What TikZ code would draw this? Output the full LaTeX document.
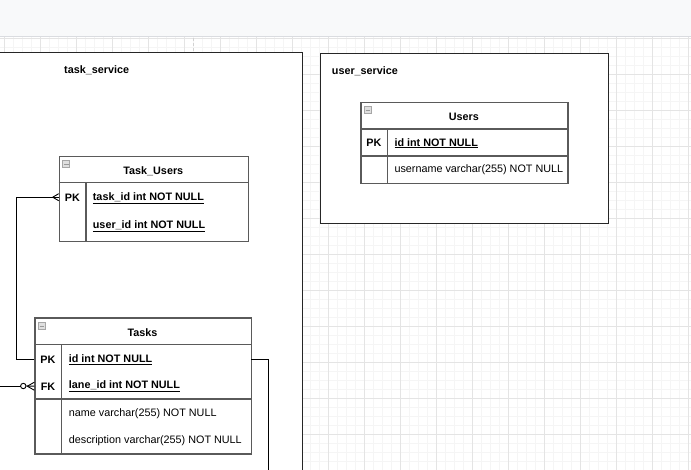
\documentclass[tikz,border=0pt]{standalone}
\usepackage{fontspec}
\setmainfont{Liberation Sans}
\definecolor{topbar}{HTML}{F8F9FA}
\definecolor{topline}{HTML}{DADCE0}
\definecolor{gridminor}{HTML}{F5F5F5}
\definecolor{gridmajor}{HTML}{E4E4E4}
\definecolor{tblline}{HTML}{5A5A5A}
\begin{document}
\begin{tikzpicture}[x=1pt,y=-1pt,
  every node/.style={font=\fontsize{10.8}{13}\selectfont, inner sep=0pt},
  container/.style={draw=black!85, line width=1.1pt, fill=white, anchor=north west},
  tbl/.style={draw=tblline, line width=1.3pt, fill=white, anchor=north west},
  tblline/.style={draw=tblline, line width=1.3pt},
  rowbox/.style={anchor=north west, minimum height=27pt},
  title/.style={font=\fontsize{10.8}{13}\selectfont\bfseries},
  keylbl/.style={font=\fontsize{10.8}{13}\selectfont\bfseries},
  fld/.style={anchor=west},
  keyfld/.style={anchor=west, font=\fontsize{10.8}{13}\selectfont\bfseries},
  conn/.style={draw=black, line width=0.9pt},
  icon/.style={draw=gray!70, fill=gray!25, line width=0.5pt}
]
\useasboundingbox (0,0) rectangle (691,469);
\clip (0,0) rectangle (691,469);
\fill[white] (0,0) rectangle (691,469);
% grid
\foreach \i in {0,...,76} { \draw[gridminor, line width=0.8pt] ({4.3+9*\i},37) -- ({4.3+9*\i},470); }
\foreach \i in {0,...,48} { \draw[gridminor, line width=0.8pt] (0,{38.3+9*\i}) -- (691,{38.3+9*\i}); }
\foreach \i in {0,...,19} { \draw[gridmajor, line width=0.9pt] ({4.3+36*\i},37) -- ({4.3+36*\i},470); }
\foreach \i in {0,...,12} { \draw[gridmajor, line width=0.9pt] (0,{38.3+36*\i}) -- (691,{38.3+36*\i}); }
% top bar
\fill[topbar] (0,0) rectangle (691,36.5);
\draw[topline, line width=1pt] (0,36.5) -- (691,36.5);
% page break
\draw[gray!35, line width=1.5pt, dash pattern=on 3pt off 2pt] (193.5,38) -- (193.5,52);

% containers
\node[container, minimum width=311pt, minimum height=440pt] (tasksvc) at (-9.5,52) {};
\node[anchor=west, title] (tasksvclbl) at (64,70.7) {task\_service};
\node[container, minimum width=288pt, minimum height=170.3pt] (usersvc) at (319.7,52.7) {};
\node[anchor=west, title] (usersvclbl) at (331.7,71) {user\_service};

% Users table
\node[tbl, minimum width=207pt, minimum height=81.3pt] (users) at (360.3,101.7) {};
\draw[tblline] (360.3,129) -- (567.3,129);
\draw[tblline] (360.3,156) -- (567.3,156);
\draw[tblline] (387.3,129) -- (387.3,183);
\draw[icon] (364.3,106.5) rectangle (371.3,113.5);
\draw[gray!80, line width=0.8pt] (365.5,110) -- (370.1,110);
\node[title] (userstitle) at (463.8,116.7) {Users};
\node[keylbl] (userspk) at (373.8,143.2) {PK};
\node[keyfld] (usersid) at (394.3,143.2) {\underline{id int NOT NULL}};
\node[fld] (usersname) at (394.3,170.2) {username varchar(255) NOT NULL};

% Task_Users table
\node[tbl, minimum width=189.3pt, minimum height=85.3pt] (taskusers) at (58.7,155.7) {};
\draw[tblline] (58.7,182.7) -- (248,182.7);
\draw[tblline] (86,182.7) -- (86,241);
\draw[icon] (62.7,160.5) rectangle (69.7,167.5);
\draw[gray!80, line width=0.8pt] (63.9,164) -- (68.5,164);
\node[title] (tutitle) at (153.3,171) {Task\_Users};
\node[rowbox, minimum width=189.3pt, minimum height=28.6pt] (tu-task) at (58.7,182.7) {};
\node[keylbl] (tupk) at (72.3,198) {PK};
\node[keyfld] (tutask) at (92.7,198) {\underline{task\_id int NOT NULL}};
\node[keyfld] (tuuser) at (92.7,226.4) {\underline{user\_id int NOT NULL}};

% Tasks table
\node[tbl, minimum width=216.4pt, minimum height=136pt] (tasks) at (34.3,317.3) {};
\draw[tblline] (34.3,344.3) -- (250.7,344.3);
\draw[tblline] (34.3,399) -- (250.7,399);
\draw[tblline] (61.7,344.3) -- (61.7,453.3);
\draw[icon] (38.3,322.5) rectangle (45.3,329.5);
\draw[gray!80, line width=0.8pt] (39.5,326) -- (44.1,326);
\node[title] (taskstitle) at (142.5,333) {Tasks};
\node[rowbox, minimum width=216.4pt] (tasks-id) at (34.3,345.3) {};
\node[rowbox, minimum width=216.4pt] (tasks-lane) at (34.3,372.5) {};
\node[keylbl] (taskspk) at (48,359.7) {PK};
\node[keylbl] (tasksfk) at (48,386.7) {FK};
\node[keyfld] (tasksidtxt) at (68.7,359.7) {\underline{id int NOT NULL}};
\node[keyfld] (taskslanetxt) at (68.7,386.7) {\underline{lane\_id int NOT NULL}};
\node[fld] (tasksname) at (68.7,413.4) {name varchar(255) NOT NULL};
\node[fld] (tasksdesc) at (68.7,440.4) {description varchar(255) NOT NULL};

% connectors
\draw[conn] (tasks-id.west) -- ++(-17.6,0) |- (tu-task.west);
\draw[conn] (tu-task.west) ++(-6,0) -- ++(6,-3.5);
\draw[conn] (tu-task.west) ++(-6,0) -- ++(6,3.5);

\coordinate (leftend) at (-2,386);
\draw[conn] (leftend) -- (20.6,386);
\draw[conn] (23.3,386) circle (2.7);
\draw[conn] (26,386) -- (tasks-lane.west);
\draw[conn] (tasks-lane.west) ++(-7,0) -- ++(7,-4);
\draw[conn] (tasks-lane.west) ++(-7,0) -- ++(7,4);

\coordinate (downend) at (268.3,475);
\draw[conn] (tasks-id.east) -| (downend);
\end{tikzpicture}
\end{document}
